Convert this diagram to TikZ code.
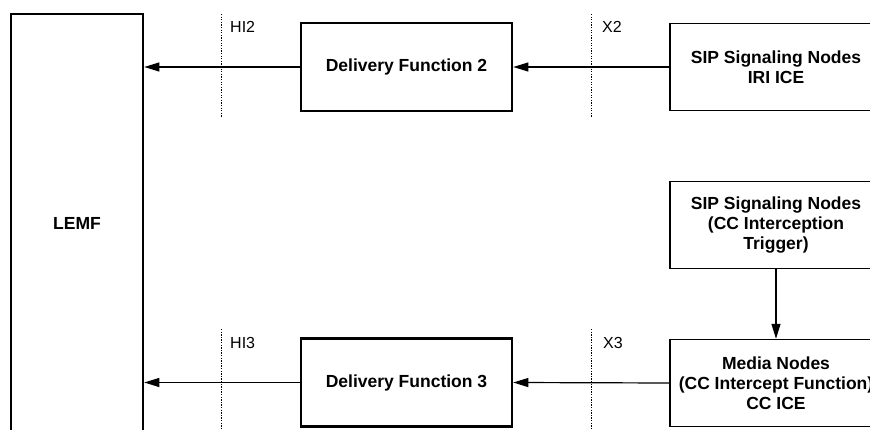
\documentclass[tikz,border=0pt]{standalone}
\usepackage{fontspec}
\setmainfont{Liberation Sans}
\usetikzlibrary{arrows.meta}
\begin{document}
\begin{tikzpicture}[x=1pt,y=-1pt,
  boxfont/.style={font=\fontsize{17.5}{20}\selectfont\bfseries},
  thickbox/.style={draw,line width=2.6pt,minimum width=211pt,minimum height=88pt,inner sep=0pt,align=center,boxfont},
  thinbox/.style={draw,line width=1.4pt,minimum width=212pt,minimum height=87pt,inner sep=0pt,align=center,boxfont},
  conn/.style={line width=1.2pt,-{Triangle[length=15pt,width=9pt]}},
  refline/.style={line width=1pt,dash pattern=on 1.3pt off 1.3pt},
  reflabel/.style={anchor=base west,inner sep=0pt,font=\fontsize{16}{19}\selectfont}]
\useasboundingbox (0,0) rectangle (870,430);
\clip (0,0) rectangle (870,430);

% nodes
\node[thickbox, minimum width=132pt, minimum height=419pt] (lemf) at (77,223.5) {LEMF};
\node[thickbox] (df2) at (406.5,67) {Delivery Function 2};
\node[thickbox] (df3) at (406.5,382.5) {Delivery Function 3};
\node[thinbox] (sip1) at (776,67) {SIP Signaling Nodes\\IRI ICE};
\node[thinbox] (sip2) at (776,225) {SIP Signaling Nodes\\(CC Interception\\Trigger)};
\node[thinbox] (media) at (776,383) {Media Nodes\\(CC Intercept Function)\\CC ICE};

% reference points (interfaces)
\coordinate (hi2t) at (221,14);  \coordinate (hi2b) at (221,117);
\coordinate (x2t)  at (591,14);  \coordinate (x2b)  at (591,117);
\coordinate (hi3t) at (221,329); \coordinate (hi3b) at (221,430);
\coordinate (x3t)  at (591,329); \coordinate (x3b)  at (591,430);

\draw[refline] (hi2t) -- (hi2b);
\draw[refline] (x2t) -- (x2b);
\draw[refline] (hi3t) -- (hi3b);
\draw[refline] (x3t) -- (x3b);

\node[reflabel] (hi2lbl) at (230,33) {HI2};
\node[reflabel] (x2lbl) at (602,33) {X2};
\node[reflabel] (hi3lbl) at (230,348) {HI3};
\node[reflabel] (x3lbl) at (603,348) {X3};

% connectors
\draw[conn] (sip1.west) -- (df2.east);
\draw[conn] (df2.west) -- (lemf.east |- df2.west);
\draw[conn] (media.west) -- (df3.east);
\draw[conn] (df3.west) -- (lemf.east |- df3.west);
\draw[conn] (sip2.south) -- (media.north);
\end{tikzpicture}
\end{document}
